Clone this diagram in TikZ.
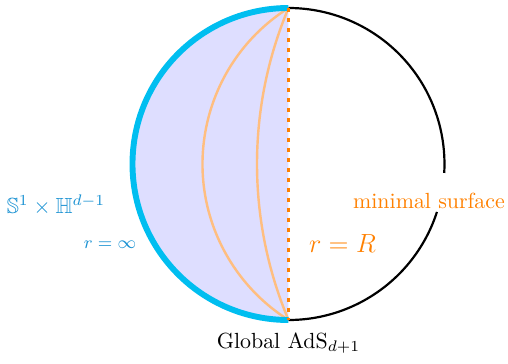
\documentclass[tikz,border=0pt]{standalone}
\usepackage{amssymb}
\definecolor{cyanarc}{RGB}{0,190,240}
\definecolor{bluetext}{RGB}{25,145,210}
\definecolor{orng}{RGB}{255,128,0}
\definecolor{fillblue}{RGB}{222,222,255}
\definecolor{lightorng}{RGB}{255,190,128}
\begin{document}
\begin{tikzpicture}[x=0.4566pt,y=0.4566pt,
  lbl/.style={inner sep=0pt,anchor=base},
  slice/.style={lightorng,line width=1.1pt},
  bdry/.style={cyanarc,line width=2.7pt},
  bulk/.style={black,line width=1pt},
  surf/.style={orng,line width=1.8pt,dash pattern=on 1.8pt off 2.76pt}]
\useasboundingbox (-288.5,-199) rectangle (219.5,164);
\coordinate (T) at (0,156);
\coordinate (B) at (0,-156);
\fill[fillblue] (T) arc[start angle=90,end angle=270,radius=156] -- cycle;
\draw[slice] (T) arc[start angle=122.27,end angle=237.73,radius=184.5];
\draw[slice] (T) arc[start angle=157.17,end angle=202.83,radius=402];
\draw[bdry] (T) arc[start angle=90,end angle=270,radius=156];
\draw[bulk] (T) arc[start angle=90,end angle=-3.3,radius=156];
\draw[bulk] (0,-156) arc[start angle=-90,end angle=-17.9,radius=156];
\draw[surf] (T) -- (B);
\node[lbl,text=bluetext] (bnd) at (-232.5,-49) {$\mathbb{S}^1\times\mathbb{H}^{d-1}$};
\node[lbl,text=bluetext,font=\footnotesize] (rinf) at (-178.5,-84) {$r=\infty$};
\node[lbl,text=orng,font=\large] (rR) at (54,-88) {$r=R$};
\node[lbl,text=orng] (ms) at (140.5,-44) {minimal surface};
\node[lbl] (ads) at (0,-184) {Global AdS$_{d+1}$};
\end{tikzpicture}
\end{document}
